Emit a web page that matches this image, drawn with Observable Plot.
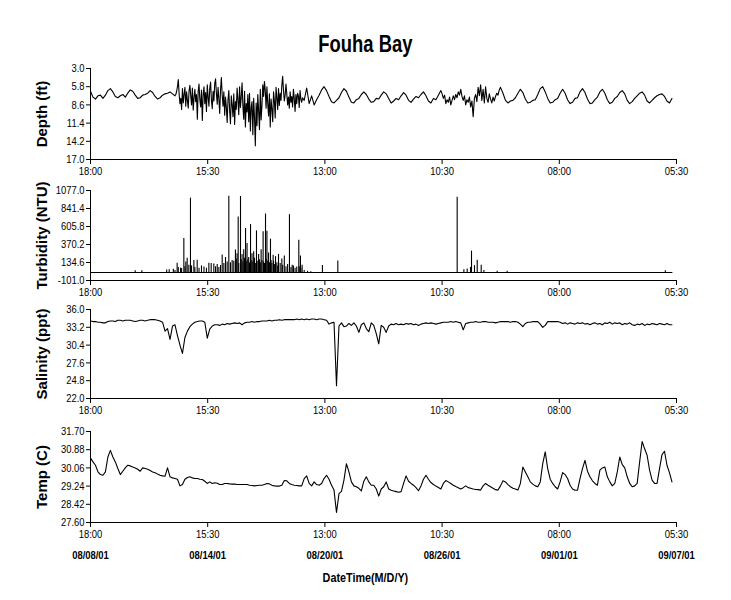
<!DOCTYPE html>
<html><head><meta charset="utf-8">
<script src="https://cdn.jsdelivr.net/npm/d3@7"></script>
<script src="https://cdn.jsdelivr.net/npm/@observablehq/plot@0.6"></script>
<style>
body{margin:0;background:#fff;}
#root{position:relative;width:731px;height:600px;overflow:hidden;font-family:"Liberation Sans",Arial,sans-serif;color:#000;}
#title{position:absolute;left:0;width:731px;top:30px;text-align:center;font-weight:bold;font-size:23px;line-height:28px;transform:scaleX(0.8);transform-origin:365px 0;}
.panel{position:absolute;left:0;}
.panel svg{overflow:visible;}
#xlabel{position:absolute;left:0;width:731px;top:570px;text-align:center;font-weight:bold;font-size:13.5px;line-height:16px;transform:scaleX(0.8);transform-origin:365px 0;}
[aria-label="y-axis label"], [aria-label="y-axis label"] text{font-weight:bold;font-size:15px;}
</style></head>
<body><div id="root"><div id="title">Fouha Bay</div><div id="xlabel">DateTime(M/D/Y)</div></div>
<script>
// ---- data ----
const startTime = "2001-08-08T18:00:00Z";
const tickTimes = ["2001-08-08T18:00:00Z","2001-08-14T15:30:00Z","2001-08-20T13:00:00Z","2001-08-26T10:30:00Z","2001-09-01T08:00:00Z","2001-09-07T05:30:00Z"];

const depthTicks = [3.0, 5.8, 8.6, 11.4, 14.2, 17.0];
const turbTicks = [-101.0, 134.6, 370.2, 605.8, 841.4, 1077.0];
const salTicks = [22.0, 24.8, 27.6, 30.4, 33.2, 36.0];
const tempTicks = [27.60, 28.42, 29.24, 30.06, 30.88, 31.70];

// depth: calm start (hours 0..99, every 3 h)
const depthCalm1 = [
6.5,7.4,7.7,7.2,7.1,7.6,7.1,6.4,6.1,6.6,
7.3,7.5,7.2,7.0,7.4,6.8,6.3,6.5,7.1,7.6,
7.5,7.1,7.0,6.8,6.4,6.7,7.3,7.7,7.5,7.1,
6.9,6.8,6.6,6.9
];
// depth: noisy stretch (hours 102..256, every 1 h)
const depthNoisy1 = [
7.2,7.0,6.5,5.8,4.7,6.9,8.4,7.6,9.3,
6.1,8.3,7.0,5.9,8.8,6.6,7.9,9.1,6.4,5.6,7.2,8.6,6.0,9.4,7.5,6.2,8.1,7.0,10.8,6.5,
5.4,7.8,8.9,6.3,11.0,7.1,5.8,8.4,6.7,9.6,5.5,7.4,8.8,6.0,5.1,7.9,9.2,6.5,8.0,5.3,
4.6,6.8,8.5,5.9,7.7,9.9,6.2,4.4,7.1,8.8,6.6,10.2,7.4,8.9,11.3,7.8,6.4,9.5,11.5,7.2,
8.6,10.4,6.9,11.6,8.1,9.3,6.0,7.8,10.1,5.8,9.0,7.4,5.2,8.8,10.8,6.5,12.0,8.4,9.7,7.0,
11.2,6.8,12.6,9.0,8.1,13.2,7.6,10.5,14.9,8.3,11.8,7.0,9.6,12.4,6.2,10.9,8.7,5.5,7.3,5.0,
6.4,9.1,5.8,8.4,10.3,6.9,12.0,7.7,9.2,11.2,6.6,8.0,10.6,5.9,7.5,9.3,6.1,8.7,6.8,7.9,
5.6,4.2,6.3,8.0,7.1,5.4,6.9,8.6,7.4,9.1,6.6,8.2,7.3,8.9,6.2,7.6,9.6,7.0,8.4,6.8,
7.2,9.0,6.4,7.7,8.2,7.5
];
// depth: hours 258..420, every 3 h
const depthCalm2 = [
7.9,6.0,8.4,7.2,8.6,7.8,7.1,6.3,5.8,6.4,
7.3,8.1,8.3,7.9,7.5,6.7,6.1,6.5,7.4,8.2,
8.3,7.8,7.6,7.0,6.6,7.0,7.7,8.2,8.1,7.6,
7.7,7.1,6.6,6.9,7.6,8.3,8.0,7.6,7.8,7.2,
6.7,7.1,7.9,8.2,7.7,7.3,7.5,7.0,6.6,7.2,
8.0,8.3,7.6,7.8,7.1
];
// depth: second noisy stretch (hours 423..495, every 1.5 h)
const depthNoisy2 = [
6.4,6.9,7.6,7.1,8.4,7.8,8.2,7.4,8.6,7.9,
7.2,7.8,7.0,7.5,6.6,7.1,6.2,7.3,7.9,7.2,
8.6,7.8,8.2,7.4,8.9,8.0,10.4,7.6,7.0,8.1,
5.9,7.2,5.5,7.9,6.2,8.3,5.8,7.6,8.2,6.9,
7.7,8.3,7.4,8.0,7.3,6.8,7.1,6.3,5.9
];
// depth: hours 498..702, every 3 h
const depthCalm3 = [
6.8,7.9,8.3,8.0,7.9,7.5,6.8,6.2,6.7,7.7,
8.3,8.2,7.9,7.8,7.0,6.1,5.8,6.6,7.6,8.3,
8.2,7.8,7.6,6.8,6.2,6.8,7.8,8.4,8.2,7.6,
7.5,6.6,6.1,6.7,7.7,8.4,8.3,7.8,7.4,6.6,
6.2,6.8,7.8,8.4,8.2,7.6,7.3,6.7,6.4,6.9,
7.9,8.4,8.1,7.6,7.2,6.8,6.6,7.1,8.0,8.3,
7.9,7.5,7.2,7.0,6.9,7.3,8.0,8.3,7.6
];

const turbBaseHours = [0, 702];
const turbBaseValues = [3, 3];
const turbSpikeHours = [54,62,92,95,100,102,104.6,106,108.7,110,112.7,114,115.1,116.7,118.7,120.7,122,124.8,126,128.8,131,134,137,140,142.9,145.7,148.9,151,153,155,157,159,161,163,165,167,169,171,173,175,176,177,178.3,179,181.1,182,183,184,185,186,187.2,188,189,190,191,192,193.2,194,195,196,197,198,199,200.4,202,203,204,205,206,207,208.4,209,210,211.3,212,213,214,215,216,217.3,218,219,220.5,221,222,223.4,225,226,227,229,231,232,234,236,238,240.2,242,243.5,245,247,249,251.5,252,253.5,254,255.5,258,262,266,280,298.6,442.7,450.8,454.8,458.8,460,463.6,466.9,471.7,475,491,503,694];
const turbSpikeValues = [25,25,35,40,45,30,124,70,60,55,449,80,140,189,100,977,90,160,70,165,60,90,75,60,124,120,115,80,110,70,95,232,120,200,140,1003,130,160,150,297,180,250,731,120,999,170,240,140,300,190,579,150,384,170,200,130,631,160,250,140,276,190,120,549,150,240,170,130,300,160,536,140,120,769,180,545,150,260,130,440,160,120,230,150,110,211,130,90,240,120,180,100,220,80,110,761,70,100,90,60,75,427,80,220,60,100,30,20,15,94,154,990,40,50,70,284,94,163,100,30,20,20,25];

// salinity (hours 0..702, every 3 h)
const salinityValues = [
34.2,34.1,34.1,34.0,34.0,33.9,33.9,34.1,34.2,34.2,
34.1,34.3,34.3,34.2,34.3,34.3,34.3,34.2,34.1,34.2,
34.3,34.3,34.2,34.3,34.4,34.4,34.4,34.3,34.2,34.0,
32.6,33.0,31.3,33.4,33.6,31.9,30.4,29.1,31.6,32.6,
33.3,33.7,34.0,34.1,34.2,34.2,34.0,31.5,32.9,33.4,
33.6,33.6,33.5,33.7,33.6,33.8,33.7,33.8,33.9,33.8,
33.9,33.6,33.9,34.0,34.0,34.1,34.0,34.1,34.1,34.2,
34.2,34.2,34.3,34.2,34.3,34.3,34.4,34.3,34.4,34.4,
34.4,34.4,34.4,34.5,34.4,34.5,34.4,34.5,34.4,34.5,
34.5,34.4,34.5,34.5,34.4,34.3,33.7,33.9,34.0,24.0,
33.4,33.9,33.3,33.4,33.8,33.5,33.9,33.4,32.4,33.6,
33.9,33.0,32.5,33.9,33.5,32.2,30.6,33.5,33.2,32.4,
33.4,33.7,33.6,33.8,33.6,33.7,33.6,33.8,33.7,33.8,
33.6,33.7,33.5,33.7,33.8,33.9,33.8,33.9,33.8,33.7,
33.8,33.9,34.0,34.0,34.0,34.1,34.0,34.1,34.0,33.9,
32.8,33.8,33.9,34.0,34.0,34.1,34.0,34.0,34.1,34.1,
34.0,34.0,34.0,33.9,34.0,34.1,34.1,34.1,34.1,34.0,
34.1,34.1,34.0,33.7,33.3,33.8,34.0,34.0,34.1,34.1,
34.1,33.7,33.2,33.5,34.1,34.1,34.1,34.1,34.1,34.0,
33.8,33.9,33.7,33.9,33.8,33.7,33.9,33.8,33.9,33.7,
33.8,33.6,33.8,33.9,33.7,33.8,33.6,33.9,33.8,34.0,
33.7,33.9,33.8,33.9,33.6,33.8,33.7,33.9,33.6,33.5,
33.7,33.6,33.8,33.5,33.7,33.6,33.8,33.7,33.6,33.8,
33.7,33.6,33.8,33.6,33.6
];

// temperature (hours 0..702, every 3 h)
const tempValues = [
30.50,30.33,30.18,29.88,29.76,29.73,29.88,30.55,30.85,30.55,
30.33,30.03,29.76,29.91,30.06,30.18,30.15,30.10,30.06,30.00,
29.91,30.06,30.03,30.00,29.94,29.88,29.84,29.78,29.73,29.70,
29.69,30.06,29.66,29.61,29.58,29.55,29.25,29.31,29.55,29.63,
29.66,29.61,29.58,29.58,29.55,29.54,29.46,29.36,29.43,29.36,
29.39,29.37,29.31,29.31,29.36,29.36,29.34,29.33,29.33,29.31,
29.31,29.31,29.31,29.31,29.28,29.27,29.25,29.27,29.28,29.28,
29.31,29.36,29.34,29.28,29.25,29.24,29.24,29.28,29.49,29.48,
29.36,29.31,29.28,29.27,29.25,29.25,29.58,29.70,29.36,29.25,
29.43,29.31,29.28,29.36,29.58,29.73,29.55,29.28,29.06,28.05,
28.90,29.00,29.51,30.25,29.88,29.43,29.25,29.21,29.14,29.02,
29.46,29.66,29.43,29.28,29.28,29.11,28.79,29.11,29.21,29.43,
29.11,29.05,29.02,28.99,28.96,28.99,29.36,29.70,29.46,29.36,
29.28,29.17,29.03,29.25,29.55,29.73,29.55,29.40,29.31,29.24,
29.18,29.11,29.36,29.49,29.43,29.36,29.28,29.22,29.17,29.11,
29.17,29.25,29.17,29.14,29.11,29.09,29.08,29.06,29.25,29.36,
29.28,29.21,29.14,29.08,29.06,29.25,29.48,29.43,29.31,29.21,
29.14,29.11,29.06,29.36,30.10,29.88,29.66,29.43,29.33,29.25,
29.21,29.43,30.25,30.78,30.03,29.55,29.36,29.21,29.11,29.43,
29.85,29.76,29.58,29.28,29.11,29.05,29.06,29.58,30.03,30.40,
29.91,29.66,29.48,29.36,29.28,29.96,30.06,30.10,29.66,29.43,
29.25,29.36,29.88,30.55,30.21,30.06,29.66,29.36,29.21,29.25,
29.36,30.33,31.25,30.92,30.63,29.96,29.51,29.36,29.36,30.03,
30.66,30.81,30.18,29.85,29.43
];

// ---- build ----
const HOUR = 3600e3;
const t0 = new Date(startTime);
const ticks = tickTimes.map(s => new Date(s));
const xDomain = [ticks[0], ticks[ticks.length - 1]];
const atHour = h => new Date(+t0 + h * HOUR);
const series = (vals, startH, stepH) => vals.map((v, i) => ({t: atHour(startH + i * stepH), v}));

const FONT = '"Liberation Sans",Arial,sans-serif';

function panel({top, height, marginBottom = 21, yDomain, yTicks, fmt, label, marks, dates = false}) {
  const m = [
    Plot.ruleY([yDomain[0]], {stroke: "#000", strokeWidth: 1}),
    Plot.ruleX([xDomain[0]], {stroke: "#000", strokeWidth: 1}),
    Plot.axisX({ticks, tickFormat: d3.utcFormat("%H:%M"), tickSize: 5, tickPadding: 2, label: null, fontSize: 11.5}),
    Plot.axisY({ticks: yTicks, tickFormat: fmt, tickSize: 4, tickPadding: 2, label, labelAnchor: "center", labelOffset: 54, labelArrow: "none", fontSize: 11.5}),
    ...marks
  ];
  if (dates) m.push(Plot.axisX({ticks, tickFormat: d3.utcFormat("%m/%d/%y"), tickSize: 0, tickPadding: 28, label: null, fontSize: 11.5, fontWeight: "bold"}));
  const svg = Plot.plot({
    width: 731, height, marginLeft: 90, marginRight: 55, marginTop: 8, marginBottom,
    style: {fontFamily: FONT, background: "transparent", color: "#000", overflow: "visible"},
    x: {type: "utc", domain: xDomain},
    y: {domain: yDomain},
    marks: m
  });
  const div = document.createElement("div");
  div.className = "panel";
  div.style.top = top + "px";
  div.appendChild(svg);
  document.getElementById("root").appendChild(div);
  // narrow tick-label lettering like the original
  svg.querySelectorAll('g[aria-label$="tick label"] text').forEach(t => {
    const L = t.getComputedTextLength();
    if (L > 0) { t.setAttribute("textLength", (L * 0.82).toFixed(2)); t.setAttribute("lengthAdjust", "spacingAndGlyphs"); }
  });
}

const lineOpts = {x: "t", y: "v", stroke: "#000", strokeWidth: 1.1};

const depthSeries = [
  ...series(depthCalm1, 0, 3),
  ...series(depthNoisy1, 102, 1),
  ...series(depthCalm2, 258, 3),
  ...series(depthNoisy2, 423, 1.5),
  ...series(depthCalm3, 498, 3)
];
panel({top: 60, height: 120, yDomain: [17.0, 3.0], yTicks: depthTicks, fmt: d => d.toFixed(1), label: "Depth (ft)",
  marks: [Plot.line(depthSeries, lineOpts)]});

const turbBase = turbBaseHours.map((h, i) => ({t: atHour(h), v: turbBaseValues[i]}));
const turbSpikes = turbSpikeHours.map((h, i) => ({t: atHour(h), v: turbSpikeValues[i]}));
panel({top: 182, height: 119, yDomain: [-101.0, 1077.0], yTicks: turbTicks, fmt: d => d.toFixed(1), label: "Turbidity (NTU)",
  marks: [Plot.ruleX(turbSpikes, {x: "t", y1: 3, y2: "v", stroke: "#000", strokeWidth: 1.1}), Plot.line(turbBase, lineOpts)]});

panel({top: 301, height: 118, yDomain: [22.0, 36.0], yTicks: salTicks, fmt: d => d.toFixed(1), label: "Salinity (ppt)",
  marks: [Plot.line(series(salinityValues, 0, 3), lineOpts)]});

panel({top: 423, height: 149, marginBottom: 50, yDomain: [27.60, 31.70], yTicks: tempTicks, fmt: d => d.toFixed(2), label: "Temp (C)",
  marks: [Plot.line(series(tempValues, 0, 3), lineOpts)], dates: true});
</script></body></html>
